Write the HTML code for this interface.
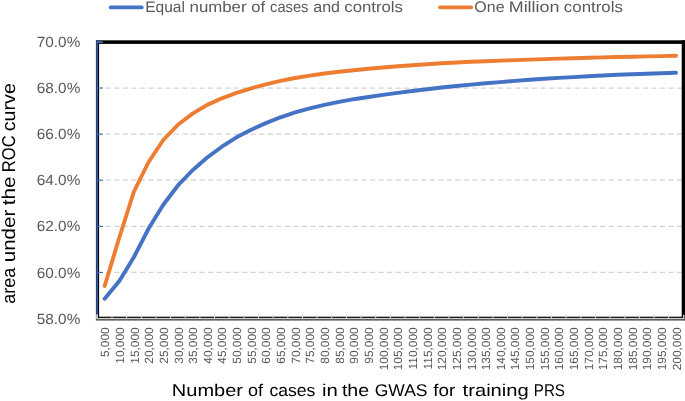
<!DOCTYPE html>
<html><head><meta charset="utf-8"><title>chart</title>
<style>html,body{margin:0;padding:0;background:#fff}body{width:685px;height:401px;overflow:hidden}</style>
</head><body>
<svg width="685" height="401" viewBox="0 0 685 401" style="will-change:transform;display:block;font-family:'Liberation Sans',sans-serif;text-rendering:geometricPrecision">
<rect width="685" height="401" fill="#fff"/>
<line x1="97.2" x2="682" y1="272.48" y2="272.48" stroke="#d3d3d3" stroke-width="1.25" stroke-dasharray="5.2 3.325"/>
<line x1="97.2" x2="682" y1="226.36" y2="226.36" stroke="#d3d3d3" stroke-width="1.25" stroke-dasharray="5.2 3.325"/>
<line x1="97.2" x2="682" y1="180.24" y2="180.24" stroke="#d3d3d3" stroke-width="1.25" stroke-dasharray="5.2 3.325"/>
<line x1="97.2" x2="682" y1="134.12" y2="134.12" stroke="#d3d3d3" stroke-width="1.25" stroke-dasharray="5.2 3.325"/>
<line x1="97.2" x2="682" y1="88.00" y2="88.00" stroke="#d3d3d3" stroke-width="1.25" stroke-dasharray="5.2 3.325"/>
<rect x="95.9" y="318.7" width="589" height="1.9" fill="#5e5e5e"/>
<rect x="96.3" y="317.8" width="688" height="0.95" fill="#d4d4d4"/>
<rect x="98" y="316.7" width="687" height="1.2" fill="#000"/>
<rect x="111.50" y="314.6" width="1" height="3.6" fill="#dcdcdc"/>
<rect x="126.15" y="314.6" width="1" height="3.6" fill="#dcdcdc"/>
<rect x="140.80" y="314.6" width="1" height="3.6" fill="#dcdcdc"/>
<rect x="155.45" y="314.6" width="1" height="3.6" fill="#dcdcdc"/>
<rect x="170.10" y="314.6" width="1" height="3.6" fill="#dcdcdc"/>
<rect x="184.75" y="314.6" width="1" height="3.6" fill="#dcdcdc"/>
<rect x="199.40" y="314.6" width="1" height="3.6" fill="#dcdcdc"/>
<rect x="214.05" y="314.6" width="1" height="3.6" fill="#dcdcdc"/>
<rect x="228.70" y="314.6" width="1" height="3.6" fill="#dcdcdc"/>
<rect x="243.35" y="314.6" width="1" height="3.6" fill="#dcdcdc"/>
<rect x="258.00" y="314.6" width="1" height="3.6" fill="#dcdcdc"/>
<rect x="272.65" y="314.6" width="1" height="3.6" fill="#dcdcdc"/>
<rect x="287.30" y="314.6" width="1" height="3.6" fill="#dcdcdc"/>
<rect x="301.95" y="314.6" width="1" height="3.6" fill="#dcdcdc"/>
<rect x="316.60" y="314.6" width="1" height="3.6" fill="#dcdcdc"/>
<rect x="331.25" y="314.6" width="1" height="3.6" fill="#dcdcdc"/>
<rect x="345.90" y="314.6" width="1" height="3.6" fill="#dcdcdc"/>
<rect x="360.55" y="314.6" width="1" height="3.6" fill="#dcdcdc"/>
<rect x="375.20" y="314.6" width="1" height="3.6" fill="#dcdcdc"/>
<rect x="389.85" y="314.6" width="1" height="3.6" fill="#dcdcdc"/>
<rect x="404.50" y="314.6" width="1" height="3.6" fill="#dcdcdc"/>
<rect x="419.15" y="314.6" width="1" height="3.6" fill="#dcdcdc"/>
<rect x="433.80" y="314.6" width="1" height="3.6" fill="#dcdcdc"/>
<rect x="448.45" y="314.6" width="1" height="3.6" fill="#dcdcdc"/>
<rect x="463.10" y="314.6" width="1" height="3.6" fill="#dcdcdc"/>
<rect x="477.75" y="314.6" width="1" height="3.6" fill="#dcdcdc"/>
<rect x="492.40" y="314.6" width="1" height="3.6" fill="#dcdcdc"/>
<rect x="507.05" y="314.6" width="1" height="3.6" fill="#dcdcdc"/>
<rect x="521.70" y="314.6" width="1" height="3.6" fill="#dcdcdc"/>
<rect x="536.35" y="314.6" width="1" height="3.6" fill="#dcdcdc"/>
<rect x="551.00" y="314.6" width="1" height="3.6" fill="#dcdcdc"/>
<rect x="565.65" y="314.6" width="1" height="3.6" fill="#dcdcdc"/>
<rect x="580.30" y="314.6" width="1" height="3.6" fill="#dcdcdc"/>
<rect x="594.95" y="314.6" width="1" height="3.6" fill="#dcdcdc"/>
<rect x="609.60" y="314.6" width="1" height="3.6" fill="#dcdcdc"/>
<rect x="624.25" y="314.6" width="1" height="3.6" fill="#dcdcdc"/>
<rect x="638.90" y="314.6" width="1" height="3.6" fill="#dcdcdc"/>
<rect x="653.55" y="314.6" width="1" height="3.6" fill="#dcdcdc"/>
<rect x="668.20" y="314.6" width="1" height="3.6" fill="#dcdcdc"/>
<rect x="96" y="40.3" width="589" height="3.6" fill="#000"/>
<rect x="681.7" y="40.3" width="3.3" height="277.6" fill="#000"/>
<rect x="683.0" y="314.8" width="1.0" height="3.9" fill="#d4d4d4"/>
<rect x="684.0" y="314.8" width="1.0" height="5.8" fill="#5e5e5e"/>
<rect x="95.9" y="40.6" width="1" height="274.1" fill="#16264a"/>
<rect x="95.9" y="314.7" width="0.7" height="5.5" fill="#5e5e5e"/>
<rect x="96.8" y="41" width="1.3" height="273.7" fill="#2f5ba8"/>
<rect x="96.5" y="314.7" width="1.6" height="4" fill="#cfcfcf"/>
<rect x="98" y="43" width="1.1" height="275" fill="#000"/>
<rect x="97" y="271.93" width="6" height="1.1" fill="#4472c4"/>
<rect x="97" y="225.81" width="6" height="1.1" fill="#4472c4"/>
<rect x="97" y="179.69" width="6" height="1.1" fill="#4472c4"/>
<rect x="97" y="133.57" width="6" height="1.1" fill="#4472c4"/>
<rect x="97" y="87.45" width="6" height="1.1" fill="#4472c4"/>
<rect x="96.4" y="41.2" width="6.6" height="1.8" fill="#3a66b5"/>
<path d="M104.67,298.80 L119.32,281.00 L133.97,257.00 L148.62,228.50 L163.27,204.80 L177.93,185.45 L192.57,170.25 L207.22,157.55 L221.88,146.70 L236.53,137.30 L251.18,129.70 L265.82,123.10 L280.48,117.30 L295.12,112.40 L309.77,108.30 L324.43,104.80 L339.07,101.80 L353.73,99.20 L368.38,97.00 L383.02,94.90 L397.67,92.90 L412.33,91.00 L426.98,89.20 L441.62,87.50 L456.27,86.00 L470.92,84.60 L485.58,83.30 L500.23,82.10 L514.88,80.90 L529.52,79.80 L544.17,78.80 L558.83,77.90 L573.48,77.10 L588.12,76.30 L602.77,75.50 L617.43,74.80 L632.08,74.20 L646.73,73.70 L661.38,73.20 L676.03,72.70" fill="none" stroke="#4472c4" stroke-width="3.9" stroke-linecap="round" stroke-linejoin="round"/>
<path d="M104.67,286.00 L119.32,237.50 L133.97,191.50 L148.62,162.00 L163.27,140.00 L177.93,124.75 L192.57,113.65 L207.22,104.85 L221.88,98.30 L236.53,92.90 L251.18,88.30 L265.82,84.30 L280.48,80.90 L295.12,78.00 L309.77,75.60 L324.43,73.50 L339.07,71.70 L353.73,70.20 L368.38,68.80 L383.02,67.50 L397.67,66.30 L412.33,65.20 L426.98,64.20 L441.62,63.30 L456.27,62.50 L470.92,61.80 L485.58,61.20 L500.23,60.60 L514.88,60.10 L529.52,59.60 L544.17,59.10 L558.83,58.60 L573.48,58.20 L588.12,57.80 L602.77,57.40 L617.43,57.00 L632.08,56.70 L646.73,56.40 L661.38,56.10 L676.03,55.80" fill="none" stroke="#ed7d31" stroke-width="3.9" stroke-linecap="round" stroke-linejoin="round"/>
<line x1="110.65" x2="141.75" y1="7.45" y2="7.45" stroke="#4472c4" stroke-width="3.7" stroke-linecap="round"/>
<text x="145.23" y="12.4" font-size="15.3" fill="#595959" textLength="39.71" lengthAdjust="spacingAndGlyphs">Equal</text>
<text x="189.58" y="12.4" font-size="15.3" fill="#595959" textLength="57.00" lengthAdjust="spacingAndGlyphs">number</text>
<text x="251.31" y="12.4" font-size="15.3" fill="#595959" textLength="13.77" lengthAdjust="spacingAndGlyphs">of</text>
<text x="270.08" y="12.4" font-size="15.3" fill="#595959" textLength="38.35" lengthAdjust="spacingAndGlyphs">cases</text>
<text x="313.32" y="12.4" font-size="15.3" fill="#595959" textLength="26.71" lengthAdjust="spacingAndGlyphs">and</text>
<text x="344.39" y="12.4" font-size="15.3" fill="#595959" textLength="58.51" lengthAdjust="spacingAndGlyphs">controls</text>
<line x1="440.1" x2="471.2" y1="7.3" y2="7.3" stroke="#ed7d31" stroke-width="3.7" stroke-linecap="round"/>
<text x="474.34" y="12.4" font-size="15.3" fill="#595959" textLength="30.27" lengthAdjust="spacingAndGlyphs">One</text>
<text x="508.73" y="12.4" font-size="15.3" fill="#595959" textLength="50.73" lengthAdjust="spacingAndGlyphs">Million</text>
<text x="563.88" y="12.4" font-size="15.3" fill="#595959" textLength="59.03" lengthAdjust="spacingAndGlyphs">controls</text>
<text x="36.8" y="323.70" font-size="14.8" fill="#595959" textLength="43.5" lengthAdjust="spacingAndGlyphs">58.0%</text>
<text x="36.8" y="277.58" font-size="14.8" fill="#595959" textLength="43.5" lengthAdjust="spacingAndGlyphs">60.0%</text>
<text x="36.8" y="231.46" font-size="14.8" fill="#595959" textLength="43.5" lengthAdjust="spacingAndGlyphs">62.0%</text>
<text x="36.8" y="185.34" font-size="14.8" fill="#595959" textLength="43.5" lengthAdjust="spacingAndGlyphs">64.0%</text>
<text x="36.8" y="139.22" font-size="14.8" fill="#595959" textLength="43.5" lengthAdjust="spacingAndGlyphs">66.0%</text>
<text x="36.8" y="93.10" font-size="14.8" fill="#595959" textLength="43.5" lengthAdjust="spacingAndGlyphs">68.0%</text>
<text x="36.8" y="46.98" font-size="14.8" fill="#595959" textLength="43.5" lengthAdjust="spacingAndGlyphs">70.0%</text>
<text transform="translate(14.6,0) rotate(-90)" x="-303.66" y="0" font-size="18.6" fill="#000" textLength="35.76" lengthAdjust="spacingAndGlyphs">area</text>
<text transform="translate(14.6,0) rotate(-90)" x="-262.34" y="0" font-size="18.6" fill="#000" textLength="52.68" lengthAdjust="spacingAndGlyphs">under</text>
<text transform="translate(14.6,0) rotate(-90)" x="-205.21" y="0" font-size="18.6" fill="#000" textLength="28.84" lengthAdjust="spacingAndGlyphs">the</text>
<text transform="translate(14.6,0) rotate(-90)" x="-172.26" y="0" font-size="18.6" fill="#000" textLength="36.89" lengthAdjust="spacingAndGlyphs">ROC</text>
<text transform="translate(14.6,0) rotate(-90)" x="-131.34" y="0" font-size="18.6" fill="#000" textLength="48.21" lengthAdjust="spacingAndGlyphs">curve</text>
<text transform="translate(109.27,327.3) rotate(-90)" font-size="11.9" fill="#595959" text-anchor="end">5,000</text>
<text transform="translate(123.92,327.3) rotate(-90)" font-size="11.9" fill="#595959" text-anchor="end">10,000</text>
<text transform="translate(138.57,327.3) rotate(-90)" font-size="11.9" fill="#595959" text-anchor="end">15,000</text>
<text transform="translate(153.22,327.3) rotate(-90)" font-size="11.9" fill="#595959" text-anchor="end">20,000</text>
<text transform="translate(167.87,327.3) rotate(-90)" font-size="11.9" fill="#595959" text-anchor="end">25,000</text>
<text transform="translate(182.53,327.3) rotate(-90)" font-size="11.9" fill="#595959" text-anchor="end">30,000</text>
<text transform="translate(197.17,327.3) rotate(-90)" font-size="11.9" fill="#595959" text-anchor="end">35,000</text>
<text transform="translate(211.82,327.3) rotate(-90)" font-size="11.9" fill="#595959" text-anchor="end">40,000</text>
<text transform="translate(226.47,327.3) rotate(-90)" font-size="11.9" fill="#595959" text-anchor="end">45,000</text>
<text transform="translate(241.12,327.3) rotate(-90)" font-size="11.9" fill="#595959" text-anchor="end">50,000</text>
<text transform="translate(255.78,327.3) rotate(-90)" font-size="11.9" fill="#595959" text-anchor="end">55,000</text>
<text transform="translate(270.43,327.3) rotate(-90)" font-size="11.9" fill="#595959" text-anchor="end">60,000</text>
<text transform="translate(285.08,327.3) rotate(-90)" font-size="11.9" fill="#595959" text-anchor="end">65,000</text>
<text transform="translate(299.73,327.3) rotate(-90)" font-size="11.9" fill="#595959" text-anchor="end">70,000</text>
<text transform="translate(314.38,327.3) rotate(-90)" font-size="11.9" fill="#595959" text-anchor="end">75,000</text>
<text transform="translate(329.03,327.3) rotate(-90)" font-size="11.9" fill="#595959" text-anchor="end">80,000</text>
<text transform="translate(343.68,327.3) rotate(-90)" font-size="11.9" fill="#595959" text-anchor="end">85,000</text>
<text transform="translate(358.33,327.3) rotate(-90)" font-size="11.9" fill="#595959" text-anchor="end">90,000</text>
<text transform="translate(372.98,327.3) rotate(-90)" font-size="11.9" fill="#595959" text-anchor="end">95,000</text>
<text transform="translate(387.62,327.3) rotate(-90)" font-size="11.9" fill="#595959" text-anchor="end">100,000</text>
<text transform="translate(402.27,327.3) rotate(-90)" font-size="11.9" fill="#595959" text-anchor="end">105,000</text>
<text transform="translate(416.93,327.3) rotate(-90)" font-size="11.9" fill="#595959" text-anchor="end">110,000</text>
<text transform="translate(431.58,327.3) rotate(-90)" font-size="11.9" fill="#595959" text-anchor="end">115,000</text>
<text transform="translate(446.23,327.3) rotate(-90)" font-size="11.9" fill="#595959" text-anchor="end">120,000</text>
<text transform="translate(460.88,327.3) rotate(-90)" font-size="11.9" fill="#595959" text-anchor="end">125,000</text>
<text transform="translate(475.52,327.3) rotate(-90)" font-size="11.9" fill="#595959" text-anchor="end">130,000</text>
<text transform="translate(490.18,327.3) rotate(-90)" font-size="11.9" fill="#595959" text-anchor="end">135,000</text>
<text transform="translate(504.83,327.3) rotate(-90)" font-size="11.9" fill="#595959" text-anchor="end">140,000</text>
<text transform="translate(519.48,327.3) rotate(-90)" font-size="11.9" fill="#595959" text-anchor="end">145,000</text>
<text transform="translate(534.12,327.3) rotate(-90)" font-size="11.9" fill="#595959" text-anchor="end">150,000</text>
<text transform="translate(548.77,327.3) rotate(-90)" font-size="11.9" fill="#595959" text-anchor="end">155,000</text>
<text transform="translate(563.43,327.3) rotate(-90)" font-size="11.9" fill="#595959" text-anchor="end">160,000</text>
<text transform="translate(578.08,327.3) rotate(-90)" font-size="11.9" fill="#595959" text-anchor="end">165,000</text>
<text transform="translate(592.73,327.3) rotate(-90)" font-size="11.9" fill="#595959" text-anchor="end">170,000</text>
<text transform="translate(607.38,327.3) rotate(-90)" font-size="11.9" fill="#595959" text-anchor="end">175,000</text>
<text transform="translate(622.03,327.3) rotate(-90)" font-size="11.9" fill="#595959" text-anchor="end">180,000</text>
<text transform="translate(636.68,327.3) rotate(-90)" font-size="11.9" fill="#595959" text-anchor="end">185,000</text>
<text transform="translate(651.33,327.3) rotate(-90)" font-size="11.9" fill="#595959" text-anchor="end">190,000</text>
<text transform="translate(665.98,327.3) rotate(-90)" font-size="11.9" fill="#595959" text-anchor="end">195,000</text>
<text transform="translate(680.63,327.3) rotate(-90)" font-size="11.9" fill="#595959" text-anchor="end">200,000</text>
<text x="171.86" y="396.1" font-size="17.0" fill="#000" textLength="71.07" lengthAdjust="spacingAndGlyphs">Number</text>
<text x="247.94" y="396.1" font-size="17.0" fill="#000" textLength="15.03" lengthAdjust="spacingAndGlyphs">of</text>
<text x="269.45" y="396.1" font-size="17.0" fill="#000" textLength="45.98" lengthAdjust="spacingAndGlyphs">cases</text>
<text x="322.03" y="396.1" font-size="17.0" fill="#000" textLength="15.89" lengthAdjust="spacingAndGlyphs">in</text>
<text x="341.90" y="396.1" font-size="17.0" fill="#000" textLength="27.27" lengthAdjust="spacingAndGlyphs">the</text>
<text x="374.72" y="396.1" font-size="17.0" fill="#000" textLength="52.78" lengthAdjust="spacingAndGlyphs">GWAS</text>
<text x="433.23" y="396.1" font-size="17.0" fill="#000" textLength="21.98" lengthAdjust="spacingAndGlyphs">for</text>
<text x="462.59" y="396.1" font-size="17.0" fill="#000" textLength="66.21" lengthAdjust="spacingAndGlyphs">training</text>
<text x="533.75" y="396.1" font-size="17.0" fill="#000" textLength="31.24" lengthAdjust="spacingAndGlyphs">PRS</text>
</svg>
</body></html>
